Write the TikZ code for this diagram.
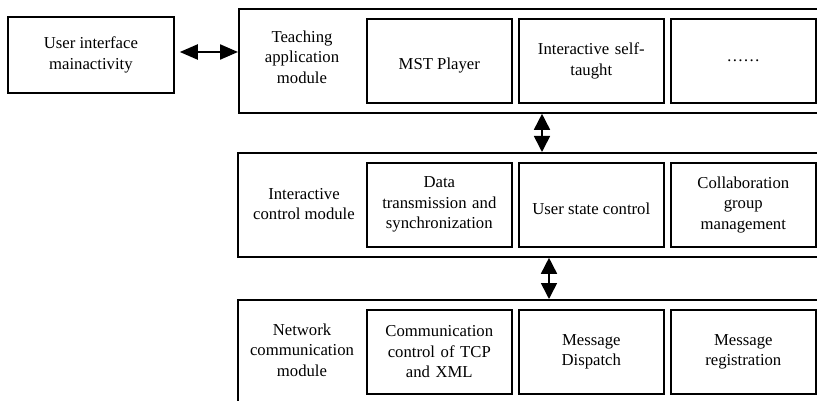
\documentclass[tikz,border=0pt]{standalone}
\usepackage{fontspec}
\setmainfont{Liberation Serif}
\usetikzlibrary{arrows.meta}
\begin{document}
\begin{tikzpicture}[x=1pt,y=-1pt,
  outerbox/.style={draw, line width=1.8pt, minimum width=600pt, minimum height=104pt, anchor=north west, inner sep=0pt},
  innerbox/.style={draw, line width=1.6pt, minimum width=145pt, minimum height=84pt, anchor=north west, inner sep=2pt, align=center, text width=141pt},
  lbl/.style={align=center, inner sep=0pt},
  hdbl/.style={line width=2.2pt, {Triangle[length=18pt,width=15pt]}-{Triangle[length=18pt,width=15pt]}},
  vdbl/.style={line width=1.6pt, {Triangle[length=16pt,width=16pt]}-{Triangle[length=16pt,width=16pt]}},
  every node/.append style={font=\fontsize{16.7}{20.5}\selectfont}]
\clip (0,0) rectangle (817,401);
\fill[white] (0,0) rectangle (817,401);

% user interface
\node[draw, line width=1.8pt, minimum width=166pt, minimum height=76pt, anchor=north west, align=center, inner sep=0pt] (ui) at (7,16) {User interface\\mainactivity};

% outer module boxes
\node[outerbox] (top) at (238,8) {};
\node[outerbox] (mid) at (237,152) {};
\node[outerbox, minimum height=130pt] (bot) at (237,299) {};

\node[lbl] (topl) at (302,57) {Teaching\\application\\module};
\node[lbl] (midl) at (304,204) {Interactive\\control module};
\node[lbl] (botl) at (302,350) {Network\\communication\\module};

% top row
\node[innerbox] (t1) at (366,18) {};
\node[lbl] (t1t) at ([yshift=-5pt]t1.center) {MST Player};
\node[innerbox] (t2) at (518,18) {Interactive self-\\taught};
\node[innerbox] (t3) at (670,18) {……};

% middle row
\node[innerbox] (m1) at (366,162) {Data\\transmission and\\synchronization};
\node[innerbox] (m2) at (518,162) {};
\node[lbl] (m2t) at ([yshift=-4pt]m2.center) {User state control};
\node[innerbox] (m3) at (670,162) {Collaboration\\group\\management};

% bottom row
\node[innerbox] (b1) at (366,309) {Communication\\control of TCP\\and XML};
\node[innerbox] (b2) at (518,309) {Message\\Dispatch};
\node[innerbox] (b3) at (670,309) {Message\\registration};

% connectors
\coordinate (hy) at (0,52);
\coordinate (v1) at (542,0);
\coordinate (v2) at (549,0);
\draw[hdbl] ([xshift=5pt]ui.east |- hy) -- (top.west |- hy);
\draw[vdbl] (top.south -| v1) -- (mid.north -| v1);
\draw[vdbl] (mid.south -| v2) -- (bot.north -| v2);
\end{tikzpicture}
\end{document}
